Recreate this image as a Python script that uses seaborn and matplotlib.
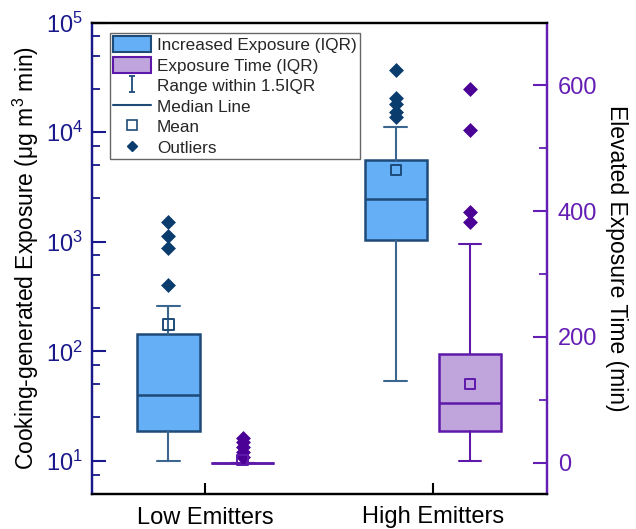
import numpy as np
import pandas as pd
import matplotlib
matplotlib.use("Agg")
import matplotlib.pyplot as plt
import seaborn as sns
from matplotlib.path import Path
from matplotlib.lines import Line2D
from matplotlib.patches import Patch
from matplotlib.ticker import LogLocator, NullFormatter, FixedLocator

# ---------------- data ----------------
categories = ["Low Emitters", "High Emitters"]

# Cooking-generated exposure (ug m^3 min), log axis
exp_whislo = [10, 54]
exp_q1 = [18.9, 1030]
exp_med = [40, 2480]
exp_q3 = [144, 5600]
exp_whishi = [262, 11100]
exp_mean = [176, 4510]
exp_out_low = [405, 880, 1120, 1514]
exp_out_high = [13700, 15400, 18200, 20650, 36700]

# Elevated exposure time (min), linear axis
time_whislo = [0, 2.5]
time_q1 = [0, 51]
time_med = [0, 95]
time_q3 = [0, 173]
time_whishi = [0, 348]
time_mean = [3.7, 124.5]
time_out_low = [9, 17, 25, 32, 39]
time_out_high = [382, 398, 529, 594]

left_ticks = [10, 100, 1000, 10000, 100000]
right_ticks = [0, 200, 400, 600]
right_minor = [100, 300, 500]

# ---------------- style ----------------
BLUE = "#64AFF5"
BLUE_EDGE = "#1E4B78"
BLUE_WHISK = "#3A6690"
NAVY_PTS = "#0A3C6E"
PURPLE = "#C0A4DC"
PURPLE_EDGE = "#5F19AA"
PURPLE_PTS = "#4B0096"
LEFT_AX = "#19198C"
RIGHT_AX = "#641EB4"

sns.set_theme(style="ticks")
plt.rcParams["font.family"] = ["Liberation Sans", "DejaVu Sans"]
plt.rcParams["mathtext.default"] = "regular"

OFF = 0.163
BOXW = 0.275
CAPW = 0.10

fig = plt.figure(figsize=(6.36, 5.29), dpi=100)
ax = fig.add_axes([91.7 / 636, 35 / 529, 455 / 636, 471.5 / 529])
ax2 = ax.twinx()

ax.set_yscale("log")
ax.set_ylim(5, 1e5)
ax2.set_ylim(-50, 700)
ax.set_xlim(-0.5, 1.5)

pos = np.arange(len(categories))

exp_stats = [dict(whislo=exp_whislo[i], q1=exp_q1[i], med=exp_med[i], q3=exp_q3[i],
                  whishi=exp_whishi[i], fliers=[]) for i in range(len(categories))]
time_stats = [dict(whislo=time_whislo[i], q1=time_q1[i], med=time_med[i], q3=time_q3[i],
                   whishi=time_whishi[i], fliers=[]) for i in range(len(categories))]

ax.bxp(exp_stats, positions=pos - OFF, widths=BOXW, capwidths=CAPW, patch_artist=True,
       showfliers=False, manage_ticks=False,
       boxprops=dict(facecolor=BLUE, edgecolor=BLUE_EDGE, linewidth=1.8),
       medianprops=dict(color=BLUE_EDGE, linewidth=1.8),
       whiskerprops=dict(color=BLUE_WHISK, linewidth=1.5),
       capprops=dict(color=BLUE_WHISK, linewidth=1.5))
ax2.bxp(time_stats, positions=pos + OFF, widths=BOXW, capwidths=CAPW, patch_artist=True,
        showfliers=False, manage_ticks=False,
        boxprops=dict(facecolor=PURPLE, edgecolor=PURPLE_EDGE, linewidth=1.8),
        medianprops=dict(color=PURPLE_EDGE, linewidth=1.8),
        whiskerprops=dict(color=PURPLE_EDGE, linewidth=1.5),
        capprops=dict(color=PURPLE_EDGE, linewidth=1.5))

# outliers
exp_out = pd.DataFrame({
    "x": np.concatenate([np.full(len(exp_out_low), pos[0] - OFF), np.full(len(exp_out_high), pos[1] - OFF)]),
    "y": exp_out_low + exp_out_high})
time_out = pd.DataFrame({
    "x": np.concatenate([np.full(len(time_out_low), pos[0] + OFF), np.full(len(time_out_high), pos[1] + OFF)]),
    "y": time_out_low + time_out_high})
sns.scatterplot(data=exp_out, x="x", y="y", marker="D", s=50, color=NAVY_PTS,
                edgecolor=NAVY_PTS, linewidth=0.5, ax=ax, zorder=5, legend=False)
sns.scatterplot(data=time_out, x="x", y="y", marker="D", s=50, color=PURPLE_PTS,
                edgecolor=PURPLE_PTS, linewidth=0.5, ax=ax2, zorder=5, legend=False)

# means
exp_m = pd.DataFrame({"x": pos - OFF, "y": exp_mean})
time_m = pd.DataFrame({"x": pos + OFF, "y": time_mean})
sns.scatterplot(data=exp_m, x="x", y="y", marker="s", s=55, facecolor="none",
                edgecolor=BLUE_EDGE, linewidth=1.4, ax=ax, zorder=6, legend=False)
sns.scatterplot(data=time_m, x="x", y="y", marker="s", s=55, facecolor="none",
                edgecolor=PURPLE_EDGE, linewidth=1.4, ax=ax2, zorder=6, legend=False)

ax.set_xlim(-0.5, 1.5)
ax.set_ylim(5, 1e5)
ax2.set_ylim(-50, 700)

# axes / ticks
ax.set_xticks(pos)
ax.set_xticklabels(categories)
ax.yaxis.set_major_locator(FixedLocator(left_ticks))
ax.yaxis.set_minor_locator(LogLocator(base=10, subs=[2.5, 5, 7.5]))
ax.yaxis.set_minor_formatter(NullFormatter())
ax2.set_yticks(right_ticks)
ax2.yaxis.set_minor_locator(FixedLocator(right_minor))

ax.tick_params(axis="x", direction="in", length=8, width=1.5, color="black",
               labelsize=17, pad=9, labelcolor="black")
ax.tick_params(axis="y", which="major", direction="in", length=10, width=1.5,
               color=LEFT_AX, labelcolor=LEFT_AX, labelsize=17, pad=6)
ax.tick_params(axis="y", which="minor", direction="in", length=6, width=1.3, color=LEFT_AX)
ax2.tick_params(axis="y", which="major", direction="in", length=10, width=1.5,
                color=RIGHT_AX, labelcolor=RIGHT_AX, labelsize=17, pad=8)
ax2.tick_params(axis="y", which="minor", direction="in", length=6, width=1.3, color=RIGHT_AX)

for a in (ax, ax2):
    a.spines["left"].set_color(LEFT_AX)
    a.spines["right"].set_color(RIGHT_AX)
    a.spines["top"].set_color("black")
    a.spines["bottom"].set_color("black")
    for s in a.spines.values():
        s.set_linewidth(1.6)
    a.grid(False)

ax.set_xlabel("")
ax.set_ylabel("Cooking-generated Exposure (μg m$^{3}$ min)", fontsize=16.5, color="black", labelpad=4)
ax2.set_xlabel("")
ax2.set_ylabel("Elevated Exposure Time (min)", fontsize=16.5, color="black", rotation=270,
               labelpad=22)

# legend
ibeam = Path([(-0.35, 1), (0.35, 1), (0, 1), (0, -1), (-0.35, -1), (0.35, -1)],
             [Path.MOVETO, Path.LINETO, Path.MOVETO, Path.LINETO, Path.MOVETO, Path.LINETO])
handles = [
    Patch(facecolor=BLUE, edgecolor=BLUE_EDGE, linewidth=1.5, label="Increased Exposure (IQR)"),
    Patch(facecolor=PURPLE, edgecolor=PURPLE_EDGE, linewidth=1.5, label="Exposure Time (IQR)"),
    Line2D([], [], linestyle="none", marker=ibeam, markersize=12, markeredgewidth=1.3,
           color=BLUE_EDGE, label="Range within 1.5IQR"),
    Line2D([], [], color=BLUE_EDGE, linewidth=1.5, label="Median Line"),
    Line2D([], [], linestyle="none", marker="s", markersize=6.5, markerfacecolor="none",
           markeredgecolor=BLUE_EDGE, markeredgewidth=1.2, label="Mean"),
    Line2D([], [], linestyle="none", marker="D", markersize=5, color=NAVY_PTS, label="Outliers"),
]
leg = ax2.legend(handles=handles, loc="upper left", bbox_to_anchor=(0.04, 0.978),
                 borderaxespad=0, fontsize=12.3, frameon=True, fancybox=False,
                 edgecolor="#666666", framealpha=1, labelspacing=0.22, borderpad=0.2,
                 handlelength=2.2, handleheight=1.05, handletextpad=0.35)
leg.get_frame().set_linewidth(1.0)

fig.savefig("out.png", dpi=100)
